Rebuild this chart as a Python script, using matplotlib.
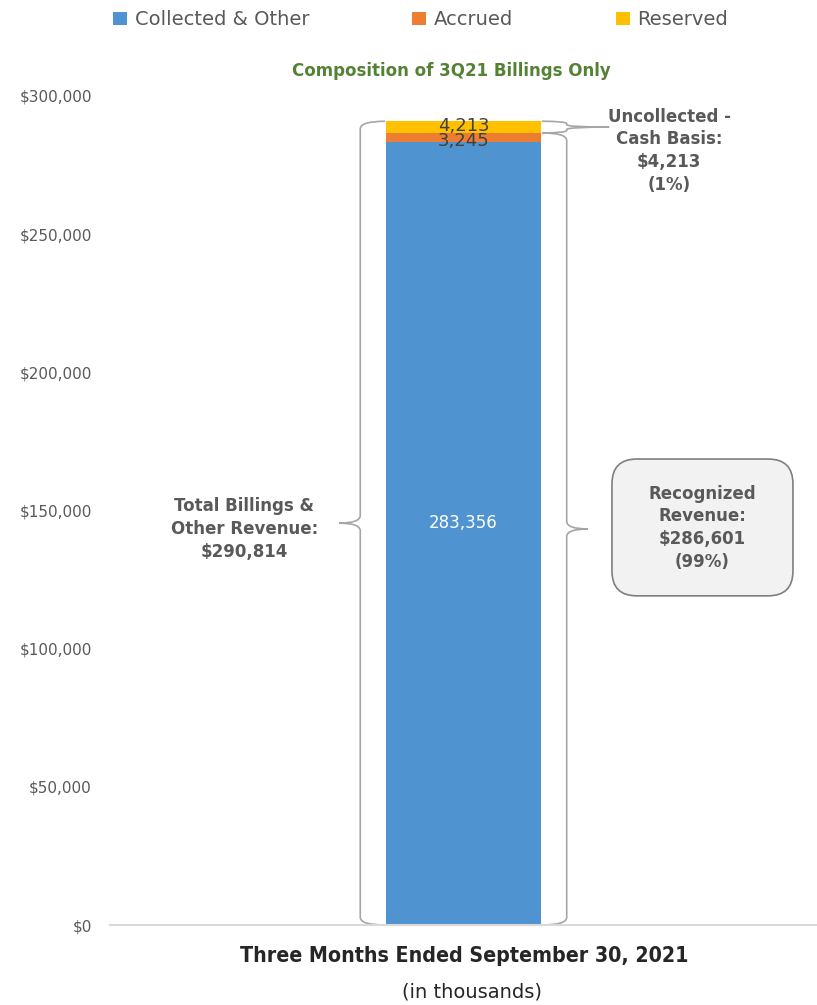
import matplotlib.pyplot as plt
from matplotlib.path import Path
from matplotlib.patches import PathPatch, FancyBboxPatch
from matplotlib.ticker import FuncFormatter
import numpy as np

# data (in thousands)
categories = ["Three Months Ended September 30, 2021"]
collected = [283356]
accrued = [3245]
reserved = [4213]
series_names = ["Collected & Other", "Accrued", "Reserved"]
colors = ["#4F94D0", "#ED7D31", "#FFC000"]
y_ticks = [0, 50000, 100000, 150000, 200000, 250000, 300000]

total = collected[0] + accrued[0] + reserved[0]
recognized = collected[0] + accrued[0]

grey = "#595959"

fig = plt.figure(figsize=(8.17, 10.05), dpi=100)
ax = fig.add_axes([0.1346, 0.0796, 0.8654, 0.825])

x = np.arange(len(categories))
w = 0.22
b1 = ax.bar(x, collected, w, color=colors[0], label=series_names[0])
b2 = ax.bar(x, accrued, w, bottom=collected, color=colors[1], label=series_names[1])
b3 = ax.bar(x, reserved, w, bottom=np.add(collected, accrued), color=colors[2],
            label=series_names[2])

ax.set_xlim(-0.5, 0.5)
ax.set_ylim(0, 300000)
ax.set_yticks(y_ticks)
ax.yaxis.set_major_formatter(FuncFormatter(lambda v, p: "${:,.0f}".format(v)))
ax.tick_params(axis="y", length=0, labelsize=11, labelcolor=grey, pad=13)
ax.set_xticks([])
for s in ["top", "right", "left"]:
    ax.spines[s].set_visible(False)
ax.spines["bottom"].set_color("#D9D9D9")
ax.spines["bottom"].set_linewidth(1.5)

# value labels
ax.text(0, collected[0] / 2 + 3800, "{:,}".format(collected[0]), color="white",
        ha="center", va="center", fontsize=12)
ax.text(0, collected[0] + accrued[0] / 2 - 1200, "{:,}".format(accrued[0]),
        color="#404040", ha="center", va="center", fontsize=13)
ax.text(0, collected[0] + accrued[0] + reserved[0] / 2 + 500,
        "{:,}".format(reserved[0]), color="#404040", ha="center", va="center",
        fontsize=13)


def brace(x0, y0, y1, direction, tip, ry=2800, curl=0.035):
    # curly brace along x0 from y0 to y1; direction -1 opens left, +1 right
    d = direction
    ym = (y0 + y1) / 2
    ry = min(ry, (y1 - y0) / 4)
    verts = [
        (x0 - d * curl, y0),
        (x0, y0), (x0, y0 + ry),
        (x0, ym - ry),
        (x0, ym), (x0 + d * tip, ym),
        (x0, ym), (x0, ym + ry),
        (x0, y1 - ry),
        (x0, y1), (x0 - d * curl, y1),
    ]
    codes = [Path.MOVETO,
             Path.CURVE3, Path.CURVE3,
             Path.LINETO,
             Path.CURVE3, Path.CURVE3,
             Path.CURVE3, Path.CURVE3,
             Path.LINETO,
             Path.CURVE3, Path.CURVE3]
    ax.add_patch(PathPatch(Path(verts, codes), fill=False, ec="#A6A6A6",
                           lw=1.2, clip_on=False))


brace(-0.146, 0, total, -1, 0.03)
brace(0.146, 0, recognized, 1, 0.03)
brace(0.146, recognized, total, 1, 0.06, ry=900, curl=0.035)

ann = dict(ha="center", va="center", fontsize=12, fontweight="bold",
           color=grey, linespacing=1.35)
ax.text(-0.31, 143300, "Total Billings &\nOther Revenue:\n${:,}".format(total),
        **ann)
ax.text(0.291, 280100, "Uncollected -\nCash Basis:\n${:,}\n({:.0%})".format(
    reserved[0], reserved[0] / total), **ann)

ry_box = 9000
box = FancyBboxPatch((0.210, 119100), 0.256, 49500,
                     boxstyle="round,pad=0,rounding_size=0.035",
                     mutation_aspect=ry_box / 0.035, fc="#F2F2F2", ec="#7F7F7F",
                     lw=1.2, clip_on=False)
ax.add_patch(box)
ax.text(0.338, 143700, "Recognized\nRevenue:\n${:,}\n({:.0%})".format(
    recognized, recognized / total), **ann)

# title and x label
fig.text(0.553, 0.929, "Composition of 3Q21 Billings Only", ha="center",
         va="center", fontsize=12, fontweight="bold", color="#548235")
fig.text(0.568, 0.049, categories[0], ha="center", va="center", fontsize=15.3,
         fontweight="bold", color="#262626", fontstretch="condensed")
fig.text(0.578, 0.013, "(in thousands)", ha="center", va="center", fontsize=14,
         color="#262626")

fig.legend(handles=[b1, b2, b3], labels=series_names, loc="upper center",
           bbox_to_anchor=(0.515, 1.007), ncol=3, frameon=False, fontsize=14,
           handlelength=0.7, handleheight=0.7, handletextpad=0.4,
           columnspacing=5.3, labelcolor=grey)

fig.savefig("out.png", dpi=100)
